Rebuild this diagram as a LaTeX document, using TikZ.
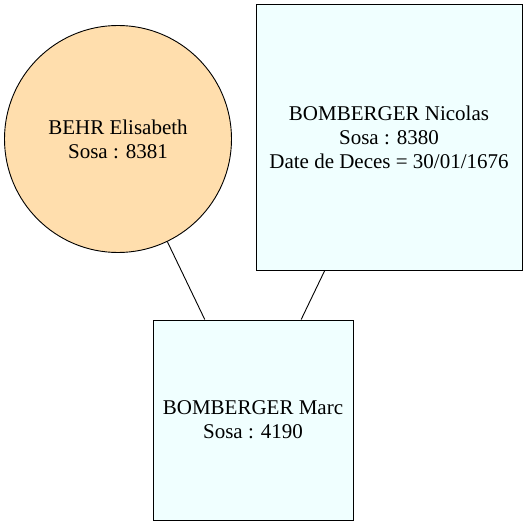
\documentclass[tikz,border=0pt]{standalone}
\usepackage{fontspec}
\setmainfont{Liberation Serif}
\definecolor{navajo}{HTML}{FFDEAD}
\definecolor{azure}{HTML}{F0FFFF}
\begin{document}
\begin{tikzpicture}[x=1pt, y=1pt, line width=0.9pt,
  every node/.style={draw, align=center, inner sep=0pt, font=\fontsize{21}{24}\selectfont},
  woman/.style={circle, fill=navajo, minimum size=227pt},
  man/.style={rectangle, fill=azure}]
\useasboundingbox (0,0) rectangle (528,525);
% Nodes
\node[woman] (behr) at (118,386) {BEHR Elisabeth \\ Sosa : 8381};
\node[man, minimum width=266pt, minimum height=266pt] (nicolas) at (389,388) {BOMBERGER Nicolas \\ Sosa : 8380 \\ Date de Deces = 30/01/1676};
\node[man, minimum width=200pt, minimum height=200pt] (marc) at (253,105) {BOMBERGER Marc \\ Sosa : 4190};

% Links
\draw (behr) -- (marc);
\draw (nicolas) -- (marc);

\end{tikzpicture}
\end{document}
